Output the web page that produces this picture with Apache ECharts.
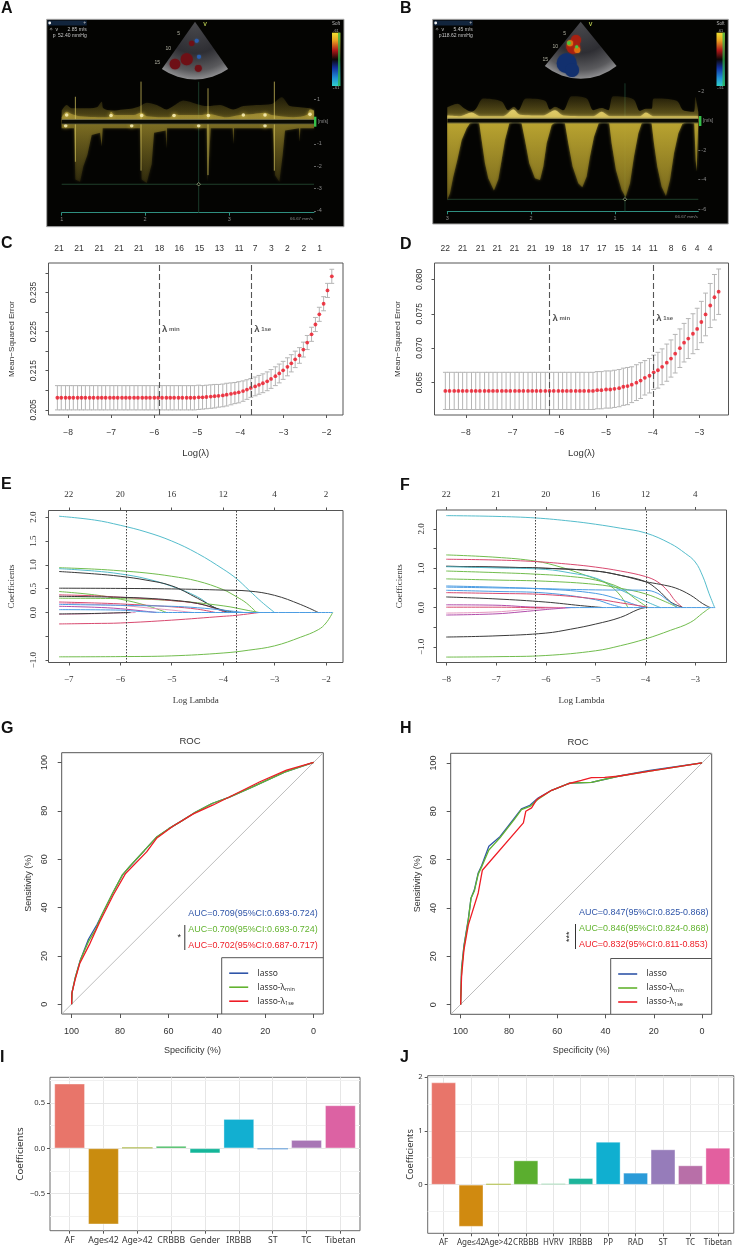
<!DOCTYPE html>
<html><head><meta charset="utf-8">
<style>html,body{margin:0;padding:0;background:#fff}#c{width:735px;height:1248px}</style>
<script src="https://cdn.jsdelivr.net/npm/echarts@6/dist/echarts.min.js"></script>
</head><body><div id="c"></div>
<script>
/* ---------- Panel C data ---------- */
const cLogL=[-8.25,-8.16,-8.06,-7.97,-7.88,-7.78,-7.69,-7.60,-7.50,-7.41,-7.31,-7.22,-7.13,-7.03,-6.94,-6.85,-6.75,-6.66,-6.57,-6.47,-6.38,-6.28,-6.19,-6.10,-6.00,-5.91,-5.82,-5.72,-5.63,-5.54,-5.44,-5.35,-5.25,-5.16,-5.07,-4.97,-4.88,-4.79,-4.69,-4.60,-4.51,-4.41,-4.32,-4.22,-4.13,-4.04,-3.94,-3.85,-3.76,-3.66,-3.57,-3.48,-3.38,-3.29,-3.19,-3.10,-3.01,-2.91,-2.82,-2.73,-2.63,-2.54,-2.45,-2.35,-2.26,-2.17,-2.07,-1.98,-1.88];
const cMse=[.2081,.2081,.2081,.2081,.2081,.2081,.2081,.2081,.2081,.2081,.2081,.2081,.2081,.2081,.2081,.2081,.2081,.2081,.2081,.2081,.2081,.2081,.2081,.2081,.2081,.2081,.2081,.2081,.2081,.2081,.2081,.2081,.2081,.2081,.2081,.2082,.2082,.2083,.2084,.2085,.2086,.2087,.2089,.2091,.2093,.2095,.2098,.2102,.2106,.2110,.2114,.2118,.2123,.2129,.2136,.2143,.2151,.2160,.2169,.2179,.2189,.2204,.2222,.2243,.2268,.2294,.2321,.2355,.2391];
const cErr=[.0031,.0031,.0031,.0031,.0031,.0031,.0031,.0031,.0031,.0031,.0031,.0031,.0031,.0031,.0031,.0031,.0031,.0031,.0031,.0031,.0031,.0031,.0031,.0031,.0031,.0031,.0031,.0031,.0031,.0031,.0031,.0031,.0031,.0031,.0031,.0031,.0030,.0030,.0030,.0030,.0029,.0029,.0029,.0028,.0027,.0027,.0026,.0025,.0024,.0024,.0024,.0024,.0024,.0024,.0024,.0024,.0023,.0023,.0022,.0021,.0020,.0019,.0018,.0018,.0018,.0018,.0018,.0018,.0018];
const cTopPos=[-8.21,-7.75,-7.28,-6.82,-6.36,-5.88,-5.42,-4.95,-4.49,-4.03,-3.66,-3.28,-2.91,-2.53,-2.16];
const cTopLabels=['21','21','21','21','21','18','16','15','13','11','7','3','2','2','1'];
const cLambda=[-5.89,-3.75];
/* ---------- Panel D data ---------- */
const dLogL=[-8.44,-8.35,-8.25,-8.16,-8.07,-7.98,-7.88,-7.79,-7.70,-7.60,-7.51,-7.42,-7.33,-7.23,-7.14,-7.05,-6.95,-6.86,-6.77,-6.67,-6.58,-6.49,-6.40,-6.30,-6.21,-6.12,-6.02,-5.93,-5.84,-5.75,-5.65,-5.56,-5.47,-5.37,-5.28,-5.19,-5.10,-5.00,-4.91,-4.82,-4.72,-4.63,-4.54,-4.45,-4.35,-4.26,-4.17,-4.07,-3.98,-3.89,-3.80,-3.70,-3.61,-3.52,-3.42,-3.33,-3.24,-3.14,-3.05,-2.96,-2.87,-2.77,-2.68,-2.59];
const dMse=[.0638,.0638,.0638,.0638,.0638,.0638,.0638,.0638,.0638,.0638,.0638,.0638,.0638,.0638,.0638,.0638,.0638,.0638,.0638,.0638,.0638,.0638,.0638,.0638,.0638,.0638,.0638,.0638,.0638,.0638,.0638,.0638,.0638,.0638,.0638,.0639,.0639,.0640,.0640,.0641,.0642,.0644,.0645,.0647,.0650,.0653,.0657,.0660,.0665,.0668,.0673,.0679,.0685,.0692,.0700,.0708,.0714,.0721,.0728,.0738,.0749,.0762,.0774,.0782];
const dErr=[.0027,.0027,.0027,.0027,.0027,.0027,.0027,.0027,.0027,.0027,.0027,.0027,.0027,.0027,.0027,.0027,.0027,.0027,.0027,.0027,.0027,.0027,.0027,.0027,.0027,.0027,.0027,.0027,.0027,.0027,.0027,.0027,.0027,.0027,.0027,.0027,.0027,.0027,.0027,.0027,.0027,.0027,.0027,.0026,.0026,.0026,.0025,.0025,.0025,.0026,.0026,.0027,.0027,.0028,.0028,.0028,.0029,.0029,.0030,.0030,.0031,.0032,.0033,.0033];
const dTopPos=[-8.44,-8.07,-7.69,-7.33,-6.96,-6.59,-6.21,-5.84,-5.46,-5.09,-4.72,-4.35,-3.99,-3.61,-3.33,-3.05,-2.77];
const dTopLabels=['22','21','21','21','21','21','19','18','17','17','15','14','11','8','6','4','4'];
const dLambda=[-6.21,-3.99];
/* ---------- Panel E coefficient paths ---------- */
const eCyan1=[[-7.19,2.02],[-6.5,1.94],[-6,1.83],[-5.5,1.69],[-5,1.50],[-4.5,1.24],[-4,.91],[-3.74,.71],[-3.5,.47],[-3.25,.22],[-3,0]];
const eGreen1=[[-7.19,.94],[-6.5,.91],[-6,.875],[-5.5,.83],[-5,.76],[-4.5,.66],[-4,.48],[-3.74,.33],[-3.55,.20],[-3.35,0]];
const eCyan2=[[-7.19,.92],[-6.5,.87],[-6,.81],[-5.5,.71],[-5,.55],[-4.5,.33],[-4.2,.12],[-3.9,0]];
const eBlack1=[[-7.19,.86],[-6.5,.81],[-6,.76],[-5.5,.68],[-5,.56],[-4.5,.30],[-4.1,.07],[-3.9,0]];
const eBlack2=[[-7.19,.51],[-6,.505],[-5,.495],[-4,.47],[-3.5,.45],[-3,.36],[-2.5,.17],[-2.15,0]];
const eGreen2=[[-7.19,.44],[-6.5,.37],[-6,.28],[-5.5,.15],[-5.1,0]];
const eCrimson1=[[-7.19,.37],[-6.5,.35],[-6,.32],[-5.5,.29],[-5,.25],[-4.5,.19],[-4.2,.10],[-3.95,0]];
const eBlack3=[[-7.19,.34],[-6.5,.33],[-6,.32],[-5.5,.30],[-5,.26],[-4.5,.19],[-4,.05],[-3.75,0]];
const eGreen3=[[-7.19,.30],[-6,.29],[-5,.25],[-4,.14],[-3.5,.04],[-3.3,0]];
const eCrimson2=[[-7.19,.22],[-6.5,.20],[-6,.18],[-5,.12],[-4.5,.07],[-4.15,0]];
const ePurple1=[[-7.19,.20],[-6.5,.17],[-6,.15],[-5.5,.10],[-5,.05],[-4.6,0]];
const eBlue1=[[-7.19,.17],[-6,.15],[-5,.13],[-4.5,.10],[-4,.05],[-3.6,0]];
const ePurple2=[[-7.19,.13],[-6.5,.11],[-6,.08],[-5.3,0]];
const eBlue2=[[-7.19,.06],[-6,.05],[-5.6,.02],[-5.2,0]];
const eBlack4=[[-7.19,-.03],[-6.5,-.02],[-6,-.005],[-5.8,0]];
const ePink1=[[-7.19,-.04],[-6.5,-.025],[-6,-.01],[-5.7,0]];
const eCrimson3=[[-7.19,-.24],[-6.5,-.23],[-6,-.22],[-5,-.16],[-4,-.08],[-3.75,-.06],[-3.3,0]];
const eGreen4=[[-7.19,-.93],[-6,-.925],[-5,-.91],[-4,-.85],[-3.5,-.79],[-3,-.70],[-2.5,-.52],[-2.15,-.36],[-2,-.22],[-1.87,0]];
const eBlueZero=[[-5.2,0],[-1.87,0]];
const eLambda=[-5.89,-3.75];
const eTopPos=[-7,-6,-5,-4,-3,-2];
const eTopLabels=['22','20','16','12','4','2'];
/* ---------- Panel F coefficient paths ---------- */
const fCyan1=[[-8,2.34],[-7,2.32],[-6.2,2.28],[-5.5,2.2],[-5,2.12],[-4.5,2.02],[-4,1.90],[-3.5,1.63],[-3.2,1.38],[-3,1.16],[-2.85,.80],[-2.72,.35],[-2.61,0]];
const fGreen1=[[-8,1.34],[-7,1.28],[-6.2,1.18],[-5.7,1.03],[-5.2,.82],[-4.9,.68],[-4.7,.55],[-4.5,.30],[-4.35,0]];
const fCrimson1=[[-8,1.23],[-7,1.21],[-6.2,1.17],[-5.5,1.10],[-5,1.03],[-4.5,.93],[-4,.79],[-3.75,.65],[-3.55,.42],[-3.4,.17],[-3.25,0]];
const fBlack1=[[-8,1.05],[-7,1.03],[-6,1.0],[-5,.93],[-4.5,.82],[-4,.66],[-3.7,.59],[-3.4,.50],[-3.1,.32],[-2.85,.10],[-2.7,0]];
const fBlack2=[[-8,1.05],[-7,1.03],[-6,1.0],[-5,.93],[-4.5,.82],[-4,.66],[-3.75,.45],[-3.5,.15],[-3.35,.05],[-3.25,0]];
const fCyan2=[[-8,1.04],[-7,1.01],[-6,.97],[-5.5,.88],[-5,.75],[-4.5,.45],[-4,.16],[-3.7,0]];
const fGreen2=[[-8,.93],[-7,.89],[-6.2,.85],[-5.5,.79],[-5,.70],[-4.5,.50],[-4.2,.22],[-3.95,0]];
const fGreen3=[[-8,.73],[-7,.70],[-6,.67],[-5,.59],[-4.5,.49],[-4,.35],[-3.6,.15],[-3.35,0]];
const fBlue1=[[-8,.55],[-7,.52],[-6,.48],[-5,.45],[-4,.44],[-3.75,.36],[-3.55,.18],[-3.35,0]];
const fBlue2=[[-8,.52],[-7,.50],[-6,.47],[-5,.36],[-4.5,.20],[-4.2,.07],[-4,0]];
const fBlue3=[[-8,.44],[-7,.41],[-6,.37],[-5,.20],[-4.7,.08],[-4.46,0]];
const fCrimson2=[[-8,.38],[-7,.36],[-6,.33],[-5,.22],[-4.5,.12],[-4,.02],[-3.95,0]];
const fBlack3=[[-8,.27],[-7,.22],[-6,.14],[-5.3,.05],[-4.85,0]];
const fPurple1=[[-8,.07],[-7,.06],[-6.2,.01],[-5.4,0]];
const fCrimson3=[[-8,.01],[-7,.01],[-6.2,0],[-5.6,0]];
const fPink1=[[-8,-.14],[-7,-.11],[-6.2,-.03],[-5.6,0]];
const fPurple2=[[-8,-.19],[-7,-.16],[-6.5,-.11],[-6,-.05],[-5.5,0]];
const fBlack4=[[-8,-.75],[-7,-.72],[-6,-.65],[-5.5,-.55],[-5,-.42],[-4.5,-.25],[-4.15,-.05],[-4,0]];
const fGreen4=[[-8,-1.26],[-7,-1.25],[-6,-1.22],[-5,-1.10],[-4.5,-.97],[-4,-.80],[-3.5,-.58],[-3.1,-.38],[-2.85,-.14],[-2.7,0]];
const fBlueZero=[[-5.6,0],[-2.6,0]];
const fLambda=[-6.21,-3.99];
const fTopPos=[-8,-7,-6,-5,-4,-3];
const fTopLabels=['22','21','20','16','12','4'];
/* ---------- Panel G ROC (specificity, sensitivity) ---------- */
const gBlue=[[100,0],[99.8,5],[98.5,11],[96.5,18],[93,27],[89.5,33],[87.5,37],[83,46],[79,53.5],[75.5,57.5],[70,63.5],[65,69],[60,72.5],[55,75.5],[49.5,79],[42,83],[35,85.5],[25,90],[12,96],[0,100]];
const gGreen=[[100,0],[99.8,5],[98.5,11],[96.3,18.5],[93,26],[90,31],[87.5,37],[83,46],[79,53.5],[76,57],[70,63.5],[65,69],[60,72.5],[55,75.5],[49.5,79],[42,83],[35,85.5],[25,90],[12,96],[0,100]];
const gRed=[[100,0],[99.9,4.5],[98.6,10],[96.6,17],[92.4,25.2],[88.3,34.2],[82.8,45.2],[77.7,54.1],[69,63],[64.9,68.6],[58,73.7],[49.7,78.7],[41.5,82.4],[33.2,86.5],[22.2,92],[11.2,96.8],[0,100]];
/* ---------- Panel H ROC ---------- */
const hBlue=[[100,0],[99.6,15],[98.6,24.5],[96.8,35.5],[95.7,44],[94.3,47.5],[92.7,54.5],[91.3,57.5],[88.3,65.5],[83.7,69.5],[77.5,77.5],[74.8,81],[71.3,82.5],[67.9,85.5],[62.3,88.7],[54.8,91.7],[45.8,92],[34.8,94.5],[22.3,96.8],[0,100]];
const hGreen=[[100,0],[99.6,14.5],[98.6,24],[96.8,35],[95.7,44],[94.3,47],[92.7,54],[91.3,57],[88.3,64],[83.7,69],[77.5,77],[74.8,80.7],[71.3,82],[67.9,85],[62.3,88.7],[54.8,91.7],[45.8,92],[34.8,94.5],[22.3,96.5],[0,100]];
const hRed=[[100,0],[99.6,11.7],[98.6,22.8],[96.8,33],[92.7,46.2],[91,55.6],[74,75.2],[73,80],[70.6,81.4],[68.5,84.8],[66.5,86.2],[62.3,88.7],[55.4,91.4],[50,92.8],[45.8,93.9],[40.3,94],[34.8,94.5],[22.3,96.5],[0,100]];
/* ---------- Panels I, J ---------- */
const iCats=['AF','Age≤42','Age>42','CRBBB','Gender','IRBBB','ST','TC','Tibetan'];
const iVals=[.713,-.838,.003,.026,-.055,.323,-.005,.092,.474];
const iCols=['#e8756a','#c98c0f','#a9b53c','#2bb14a','#14b699','#12afd1','#5b9bdb','#a876b5','#dc62a3'];
const jCats=['AF','Age≤42','Age>42','CRBBB','HVRV','IRBBB','PP','RAD','ST','TC','Tibetan'];
const jVals=[1.895,-.778,.006,.45,.025,.123,.796,.222,.654,.358,.685];
const jCols=['#e8756a','#d08a10','#b0c040','#5bae2f','#1fae56','#1db59b','#10afd0','#2a9bd8','#967cba','#b86fa8','#e35f9f'];
/* ---------- Panels A, B Doppler envelopes (sweep position, m/s) ---------- */
const aHaze=[[185,.5],[200,.75],[215,.6],[250,.6],[290,.65],[305,.9],[310,.6],[335,.5],[370,.55],[400,.6],[420,.7],[440,.85],[470,.75],[500,.55],[520,.7],[550,.95],[590,.8],[622,.7],[660,.75],[700,.55],[730,.7],[770,.75],[815,.8],[845,1.1],[870,.7],[900,.65],[930,.6],[942,.5]];
const aCore=[[185,.2],[200,.45],[215,.35],[240,.25],[325,.2],[333,.45],[345,.3],[400,.3],[425,.4],[440,.25],[510,.2],[522,.35],[540,.3],[600,.3],[625,.35],[680,.2],[720,.3],[760,.35],[795,.4],[815,.3],[880,.2],[920,.3],[930,.55],[942,.5]];
const aLobes=[[185,-.3],[222,-.3],[226,-2.6],[240,-2.7],[250,-2.0],[262,-1.5],[275,-.6],[300,-.5],[305,-1.1],[308,-.3],[420,-.3],[425,-2.6],[440,-2.75],[455,-1.9],[462,-.5],[497,-.4],[499,-1.2],[501,-.3],[620,-.3],[622,-2.7],[628,-1.5],[632,-.3],[698,-.3],[700,-1],[702,-.3],[818,-.3],[825,-2.4],[838,-2.7],[848,-1.5],[855,-.4],[897,-.3],[899,-.9],[901,-.3],[942,-.3]];
const aSpikes=[[226,1.12,-1.8],[423,1.8,-2.2],[624,1.5,-2.4],[823,1.8,-2.2]];
const aSpots=[[200,.3],[333,.28],[425,.28],[522,.28],[625,.28],[730,.3],[795,.3],[930,.33],[596,-.18],[395,-.18],[795,-.18],[197,-.18]];
const aGuide=[-2.81,596];
const aTimeTicks=[185,435,688];
const aTimeLabels=['1','2','3'];
const bHaze=[[232,.9],[262,1.15],[285,.8],[305,.6],[318,.8],[340,1.5],[395,1.3],[415,.7],[432,.95],[445,.7],[468,1.5],[525,1.35],[540,.75],[555,.95],[580,.7],[605,1.65],[650,1.5],[670,.7],[695,.85],[715,.7],[730,1.65],[790,1.45],[810,.65],[828,.8],[845,.8],[852,1.5],[920,1.35],[940,.7],[972,.6],[976,1.6],[985,.6]];
const bCore=[[232,.35],[270,.3],[305,.55],[330,.3],[400,.3],[430,.75],[450,.4],[520,.35],[555,.7],[580,.35],[670,.3],[695,.6],[720,.3],[810,.3],[828,.55],[850,.3],[985,.3]];
const bLobes=[[232,-5.38],[240,-4.93],[250,-3.8],[262,-2.67],[275,-1.31],[290,-.52],[300,-.18],[318,0],[328,-.18],[335,-1.31],[345,-2.9],[355,-3.91],[372,-4.75],[385,-3.98],[395,-2.67],[405,-1.31],[418,-.18],[436,0],[455,-.18],[465,-1.31],[478,-2.9],[495,-3.91],[510,-4.03],[520,-3.12],[530,-1.54],[545,-.3],[552,-.18],[568,0],[585,-.18],[595,-1.54],[608,-3.12],[625,-4.25],[637,-4.52],[650,-3.8],[660,-2.44],[672,-1.09],[686,-.18],[702,0],[718,-.18],[725,-1.54],[738,-3.35],[755,-4.71],[767,-5.2],[780,-4.25],[792,-2.44],[805,-.86],[815,-.18],[830,0],[845,-.18],[852,-1.54],[862,-3.12],[875,-4.48],[888,-5.11],[900,-4.03],[912,-2.22],[925,-.86],[937,-.23],[955,0],[973,-.18],[977,-2.67],[980,-3.46],[985,-3.57]];
const bGuide=[-5.34,765];
const bTimeTicks=[232,483,735];
const bTimeLabels=['3','2','1'];

const SANS='"Liberation Sans",Arial,sans-serif', SERIF='"Liberation Serif",serif', MYR='"Noto Sans",sans-serif';
const grid=[],xAxis=[],yAxis=[],series=[],elements=[],legend=[],title=[];
const minus=s=>String(s).replace('-','−');
const nearest=(arr,v)=>{let b=0;arr.forEach((a,i)=>{if(Math.abs(a-v)<Math.abs(arr[b]-v))b=i});return b};

function addGrid(l,t,w,h,border){grid.push({left:l,top:t,width:w,height:h,show:!!border,borderColor:border||'#555',borderWidth:1,containLabel:false});return grid.length-1}
function axis(g,o){return {type:'value',gridIndex:g,min:o.min,max:o.max,position:o.pos,inverse:!!o.inverse,
  axisLine:{show:false,onZero:false},
  axisTick:{show:o.tickShow!==false,length:o.tickLen||3,lineStyle:{color:o.tickColor||'#555',width:1},customValues:o.ticks},
  axisLabel:{show:true,customValues:o.labels,rotate:o.rotate||0,margin:o.margin,fontFamily:o.font,fontSize:o.size,color:o.color||'#333',hideOverlap:false,formatter:o.fmt,showMinLabel:true,showMaxLabel:true},
  splitLine:o.split||{show:false},minorTick:{show:false},minorSplitLine:o.minorSplit||{show:false},
  name:o.name,nameLocation:'middle',nameGap:o.nameGap,nameTextStyle:{fontFamily:o.font,fontSize:o.nameSize||o.size,color:'#333'}}}

/* letters */
[['A',1,17],['B',400,17],['C',1,252],['D',400,253],['E',1,493],['F',400,494],['G',1,737],['H',400,737],['I',0,1066],['J',400,1066]].forEach(([t,x,y])=>{
  elements.push({type:'text',z:5,style:{text:t,x:x,y:y,textVerticalAlign:'bottom',font:'bold 16px '+SANS,fill:'#111'}})});

/* ---------- cv panels ---------- */
function cvPanel(o){
  const g=addGrid(o.l,o.t,o.w,o.h,'#555');
  xAxis.push(axis(g,{min:o.xmin,max:o.xmax,pos:'bottom',ticks:o.xticks,labels:o.xticks,font:SANS,size:8.5,margin:13,fmt:v=>minus(v),name:'Log(λ)',nameGap:33,nameSize:9.5}));
  const xi=xAxis.length-1;
  xAxis.push(axis(g,{min:o.xmin,max:o.xmax,pos:'top',tickShow:false,labels:o.topPos,font:SANS,size:8.5,margin:10,fmt:v=>o.topLabels[nearest(o.topPos,v)]}));
  yAxis.push(axis(g,{min:o.ymin,max:o.ymax,pos:'left',ticks:o.yticks,labels:o.ylabels,rotate:90,font:SANS,size:8.5,margin:10,fmt:v=>v.toFixed(3),name:'Mean−Squared Error',nameGap:o.nameGap,nameSize:8.1}));
  const yi=yAxis.length-1;
  series.push({type:'custom',xAxisIndex:xi,yAxisIndex:yi,silent:true,z:2,clip:false,
    data:o.x.map((x,i)=>[x,o.y[i]-o.e[i],o.y[i]+o.e[i]]),
    renderItem:(p,api)=>{const a=api.coord([api.value(0),api.value(1)]),b=api.coord([api.value(0),api.value(2)]);
      const st={stroke:'#b5b5b5',lineWidth:1,fill:'none'};const c=2.4;
      return {type:'group',children:[
        {type:'line',shape:{x1:a[0],y1:a[1],x2:b[0],y2:b[1]},style:st},
        {type:'line',shape:{x1:a[0]-c,y1:a[1],x2:a[0]+c,y2:a[1]},style:st},
        {type:'line',shape:{x1:b[0]-c,y1:b[1],x2:b[0]+c,y2:b[1]},style:st}]}}});
  series.push({type:'scatter',xAxisIndex:xi,yAxisIndex:yi,silent:true,z:4,symbolSize:3.8,itemStyle:{color:'#ee1122'},
    data:o.x.map((x,i)=>[x,o.y[i]]),
    markLine:{silent:true,symbol:'none',label:{show:false},animation:false,lineStyle:{type:[6,3],color:'#555',width:1.1},data:o.lam.map(v=>({xAxis:v}))}});
  series.push({type:'scatter',xAxisIndex:xi,yAxisIndex:yi,silent:true,z:5,symbolSize:0,
    data:[[o.lam[0],o.ly,'min'],[o.lam[1],o.ly,'1se']],
    label:{show:true,position:'right',distance:3,formatter:p=>'{a|λ}{b| '+p.value[2]+'}',rich:{a:{fontFamily:SANS,fontWeight:'bold',fontSize:9.5,color:'#222'},b:{fontFamily:SANS,fontWeight:'bold',fontSize:6,color:'#333'}}}});
}
cvPanel({l:48.5,t:263,w:294.5,h:152,xmin:-8.456,xmax:-1.62,ymin:.2037,ymax:.2425,x:cLogL,y:cMse,e:cErr,lam:cLambda,ly:.2256,
  xticks:[-8,-7,-6,-5,-4,-3,-2],yticks:[.205,.21,.215,.22,.225,.23,.235,.24],ylabels:[.205,.215,.225,.235],topPos:cTopPos,topLabels:cTopLabels,nameGap:33});
cvPanel({l:434.5,t:263,w:294,h:152,xmin:-8.672,xmax:-2.379,ymin:.0603,ymax:.08237,x:dLogL,y:dMse,e:dErr,lam:dLambda,ly:.0744,
  xticks:[-8,-7,-6,-5,-4,-3],yticks:[.065,.07,.075,.08],ylabels:[.065,.07,.075,.08],topPos:dTopPos,topLabels:dTopLabels,nameGap:33});

/* ---------- coefficient path panels ---------- */
const BK='#3a3a3a',CR='#d94a70',GR='#72bd4e',BL='#4c9de3',CY='#55bdcc',PU='#b14dab',PK='#e79ac0';
function pathPanel(o){
  const g=addGrid(o.l,o.t,o.w,o.h,'#555');
  xAxis.push(axis(g,{min:o.xmin,max:o.xmax,pos:'bottom',ticks:o.xticks,labels:o.xticks,font:SERIF,size:9,margin:13,fmt:v=>minus(v),name:'Log Lambda',nameGap:o.nameGapX,nameSize:9}));
  const xi=xAxis.length-1;
  xAxis.push(axis(g,{min:o.xmin,max:o.xmax,pos:'top',ticks:o.topPos,labels:o.topPos,font:SERIF,size:9,margin:11,fmt:v=>o.topLabels[nearest(o.topPos,v)]}));
  yAxis.push(axis(g,{min:o.ymin,max:o.ymax,pos:'left',ticks:o.yticks,labels:o.ylabels,rotate:90,font:SERIF,size:9,margin:o.ymargin,fmt:v=>minus(v.toFixed(1)),name:'Coefficients',nameGap:o.nameGap,nameSize:9}));
  const yi=yAxis.length-1;
  o.paths.forEach(([d,c],i)=>series.push({type:'line',xAxisIndex:xi,yAxisIndex:yi,silent:true,z:3,data:d,symbol:'none',smooth:.4,lineStyle:{color:c,width:1},
    markLine:i?undefined:{silent:true,symbol:'none',label:{show:false},animation:false,lineStyle:{type:[1.5,1.5],color:'#444',width:1},data:o.lam.map(v=>({xAxis:v}))}}));
}
pathPanel({l:48.5,t:510.5,w:294.5,h:152,xmin:-7.395,xmax:-1.67,ymin:-1.049,ymax:2.14,xticks:[-7,-6,-5,-4,-3,-2],yticks:[-1,-.5,0,.5,1,1.5,2],ylabels:[-1,0,.5,1,1.5,2],
  topPos:eTopPos,topLabels:eTopLabels,lam:eLambda,nameGap:32,nameGapX:34,ymargin:10,
  paths:[[eCyan1,CY],[eGreen1,GR],[eCyan2,CY],[eBlack1,BK],[eBlack2,BK],[eGreen2,GR],[eGreen3,GR],[eCrimson1,CR],[eBlack3,BK],[eCrimson2,CR],[ePurple1,PK],[eBlue1,BL],[ePurple2,PU],[eBlue2,BL],[ePink1,PK],[eBlack4,BK],[eCrimson3,CR],[eGreen4,GR],[eBlueZero,BL]]});
pathPanel({l:436.5,t:510,w:290,h:152.5,xmin:-8.194,xmax:-2.372,ymin:-1.398,ymax:2.483,xticks:[-8,-7,-6,-5,-4,-3],yticks:[-1,-.5,0,.5,1,1.5,2],ylabels:[-1,0,1,2],
  topPos:fTopPos,topLabels:fTopLabels,lam:fLambda,nameGap:32,nameGapX:34,ymargin:10,
  paths:[[fCyan1,CY],[fGreen1,GR],[fCrimson1,CR],[fBlack1,BK],[fBlack2,BK],[fCyan2,CY],[fGreen2,GR],[fGreen3,GR],[fBlue1,BL],[fBlue2,BL],[fBlue3,BL],[fCrimson2,CR],[fBlack3,BK],[fPurple1,PU],[fCrimson3,CR],[fPink1,PK],[fPurple2,PU],[fBlack4,BK],[fGreen4,GR],[fBlueZero,BL]]});

/* ---------- ROC panels ---------- */
const LB='#2f55a8',LG='#62b32f',LR='#ee1c25';
function rocPanel(o){
  const g=addGrid(o.l,o.t,o.w,o.h,'#555');
  title.push({text:'ROC',left:o.tx,top:o.ty,textAlign:'center',padding:0,textStyle:{fontFamily:SANS,fontSize:9.5,fontWeight:'normal',color:'#333'}});
  xAxis.push(axis(g,{min:-4,max:104.1,inverse:true,pos:'bottom',ticks:[0,20,40,60,80,100],labels:[0,20,40,60,80,100],font:SANS,size:9,margin:13,fmt:v=>String(v),name:'Specificity (%)',nameGap:32,tickLen:4}));
  const xi=xAxis.length-1;
  yAxis.push(axis(g,{min:-4,max:104,pos:'left',ticks:[0,20,40,60,80,100],labels:[0,20,40,60,80,100],rotate:90,font:SANS,size:9,margin:12.5,fmt:v=>String(v),name:'Sensitivity (%)',nameGap:29,tickLen:4}));
  const yi=yAxis.length-1;
  series.push({type:'line',xAxisIndex:xi,yAxisIndex:yi,silent:true,z:2,symbol:'none',data:[[104.1,-4],[-4,104]],lineStyle:{color:'#bdbdbd',width:1}});
  [['lasso',o.blue,LB],['lasso-λmin',o.green,LG],['lasso-λ1se',o.red,LR]].forEach(([n,d,c])=>
    series.push({name:n,type:'line',xAxisIndex:xi,yAxisIndex:yi,silent:true,z:3,symbol:'none',data:d,lineStyle:{color:c,width:1.3},itemStyle:{color:c}}));
  const sizes=o.auc;
  [[0,LB],[1,LG],[2,LR]].forEach(([i,c])=>elements.push({type:'text',z:6,style:{text:sizes[i],x:o.ax,y:o.ay[i],textVerticalAlign:'middle',font:'8.95px '+SANS,fill:c}}));
  elements.push({type:'line',z:6,shape:{x1:o.ax-3.5,y1:o.ay[1]-4.5,x2:o.ax-3.5,y2:o.ay[2]+4},style:{stroke:'#333',lineWidth:1}});
  elements.push({type:'text',z:6,x:o.ax-9,y:(o.ay[1]+o.ay[2])/2,rotation:o.star.length>1?Math.PI/2:0,style:{text:o.star,x:0,y:0,textAlign:'center',textVerticalAlign:'middle',font:'9px '+SANS,fill:'#222'}});
  elements.push({type:'polyline',z:6,shape:{points:[[o.bx,1014],[o.bx,o.by],[o.l+o.w,o.by]]},style:{stroke:'#555',lineWidth:1,fill:'none'}});
  legend.push({show:true,left:o.bx+7.5,top:o.by+10,orient:'vertical',selectedMode:false,data:['lasso','lasso-λmin','lasso-λ1se'],icon:'rect',itemWidth:19,itemHeight:1.6,itemGap:3,padding:0,
    textStyle:{fontFamily:MYR,fontSize:8.5,color:'#333',lineHeight:11,rich:{s:{fontFamily:MYR,fontSize:5.5,color:'#333',verticalAlign:'bottom',lineHeight:11},l:{fontFamily:MYR,fontSize:8.5,color:'#333'}}},
    formatter:n=>'  '+n.replace(/λ(.*)/,'{l|λ}{s|$1}')});
}
rocPanel({l:61.7,t:752.7,w:261.6,h:261.3,tx:190,ty:736,blue:gBlue,green:gGreen,red:gRed,ax:188.3,ay:[913.7,929.5,946],star:'*',bx:221.7,by:957.7,
  auc:['AUC=0.709(95%CI:0.693-0.724)','AUC=0.709(95%CI:0.693-0.724)','AUC=0.702(95%CI:0.687-0.717)']});
rocPanel({l:450.7,t:753.3,w:261,h:261,tx:578,ty:737,blue:hBlue,green:hGreen,red:hRed,ax:579,ay:[913,928.5,945],star:'***',bx:610.7,by:958.5,
  auc:['AUC=0.847(95%CI:0.825-0.868)','AUC=0.846(95%CI:0.824-0.868)','AUC=0.832(95%CI:0.811-0.853)']});

/* ---------- bar panels ---------- */
function barPanel(o){
  const g=addGrid(o.l,o.t,o.w,o.h,'#6a6a6a');
  const idx=o.cats.map((c,i)=>i);
  xAxis.push(axis(g,{min:-.58,max:o.cats.length-1+.58,pos:'bottom',ticks:idx,labels:idx,font:MYR,size:o.catSize,margin:5,fmt:v=>o.cats[Math.round(v)],split:{show:true,lineStyle:{color:'#e6e6e6',width:1}}}));
  const xi=xAxis.length-1;
  yAxis.push(axis(g,{min:o.ymin,max:o.ymax,pos:'left',ticks:o.yticks,labels:o.yticks,font:MYR,size:7.6,margin:5,fmt:o.fmt,name:'Coefficients',nameGap:o.nameGap,nameSize:o.nameSize,split:{show:true,lineStyle:{color:'#e6e6e6',width:1}},minorSplit:{show:false}}));
  const yi=yAxis.length-1;
  series.push({type:'line',xAxisIndex:xi,yAxisIndex:yi,silent:true,z:1,symbol:'none',lineStyle:{width:0},data:[],
    markLine:{z:1,silent:true,symbol:'none',label:{show:false},animation:false,lineStyle:{type:'solid',color:'#f1f1f1',width:1},data:o.minor.map(v=>({yAxis:v}))}});
  series.push({type:'bar',xAxisIndex:xi,yAxisIndex:yi,silent:true,z:3,barWidth:o.bw,barMinHeight:1,
    data:o.vals.map((v,i)=>({value:[i,v],itemStyle:{color:o.cols[i],borderColor:'rgba(255,255,255,.45)',borderWidth:Math.abs(v)<.01?0:.8}}))});
}
barPanel({l:50,t:1077.3,w:310,h:153.4,cats:iCats,vals:iVals,cols:iCols,ymin:-.908,ymax:.783,yticks:[-.5,0,.5],minor:[-.75,-.25,.25,.75],bw:30.6,nameGap:24.5,nameSize:9.7,catSize:8.7,fmt:v=>minus(v.toFixed(1))});
barPanel({l:427.7,t:1075.7,w:306.6,h:157.6,cats:jCats,vals:jVals,cols:jCols,ymin:-.90,ymax:2.02,yticks:[0,1,2],minor:[-.5,.5,1.5],bw:24.7,nameGap:10,nameSize:9.2,catSize:8,fmt:v=>String(v)});

/* ---------- Doppler panels ---------- */
function dopPanel(o){
  const g=addGrid(o.gl,o.gt,o.gw,o.gh,null);
  xAxis.push(axis(g,{min:o.xmin,max:o.xmax,pos:'bottom',ticks:o.tt,labels:o.tt,font:SANS,size:5.5,margin:4,color:'#8a8a8a',tickColor:'#2f8f7f',fmt:v=>o.tl[nearest(o.tt,v)]}));
  xAxis[xAxis.length-1].axisLine={show:true,onZero:false,lineStyle:{color:'#2f8f80',width:1}};
  const xi=xAxis.length-1;
  yAxis.push(axis(g,{min:o.ymin,max:o.ymax,pos:'right',ticks:o.yt,labels:o.yt,font:SANS,size:5.5,margin:3,color:'#8a8a8a',tickColor:'#666',tickLen:2,fmt:v=>String(v)}));
  const yi=yAxis.length-1;
  const base={type:'line',xAxisIndex:xi,yAxisIndex:yi,silent:true,symbol:'none',lineStyle:{width:0}};
  const grad=(a,b)=>new echarts.graphic.LinearGradient(0,0,0,1,[{offset:0,color:a},{offset:1,color:b}]);
  const soft=c=>({shadowBlur:3,shadowColor:c});
  series.push({...base,z:1,data:[[o.xmin,o.guide[0]],[o.xmax,o.guide[0]]],lineStyle:{color:'#1f3f2b',width:1}});
  series.push({...base,z:1,data:[[o.guide[1],o.ymin],[o.guide[1],o.ymax]],lineStyle:{color:'#1b3a2a',width:1}});
  series.push({...base,z:2,data:o.haze,smooth:.3,areaStyle:{color:grad(o.h1,o.h2),opacity:1,...soft(o.h1)}});
  series.push({...base,z:3,data:o.core,smooth:.3,areaStyle:{color:grad(o.c1,o.c2),opacity:1,...soft(o.c1)}});
  series.push({...base,z:2,data:o.lobes,areaStyle:{color:grad(o.l1,o.l2),opacity:1,...soft(o.l1)}});
  if(o.spikes) series.push({type:'custom',xAxisIndex:xi,yAxisIndex:yi,silent:true,z:4,data:o.spikes,
    renderItem:(p,api)=>{const a=api.coord([api.value(0),api.value(1)]),b=api.coord([api.value(0),api.value(2)]);
      return {type:'line',shape:{x1:a[0],y1:a[1],x2:b[0],y2:b[1]},style:{stroke:'#d9c860',lineWidth:.9,opacity:.8}}}});
  if(o.spots) series.push({type:'scatter',xAxisIndex:xi,yAxisIndex:yi,silent:true,z:5,symbolSize:3.6,data:o.spots,itemStyle:{color:'#fff6c0',shadowBlur:4,shadowColor:'#f4d94a'}});
  series.push({...base,z:6,data:[[o.xmin,0],[o.xmax,0]],lineStyle:{color:'#0b0b04',width:o.bandW}});
  series.push({...base,z:7,data:[[o.xmin,o.bandV],[o.xmax,o.bandV]],lineStyle:{color:'#7b7a52',width:.8}});
  series.push({...base,z:7,data:[[o.xmin,-o.bandV],[o.xmax,-o.bandV]],lineStyle:{color:'#55553a',width:.8}});
  series.push({type:'scatter',xAxisIndex:xi,yAxisIndex:yi,silent:true,z:8,symbol:'diamond',symbolSize:3.5,data:[[o.guide[1],o.guide[0]]],itemStyle:{color:'#000',borderColor:'#d6e6b0',borderWidth:.7}});
  /* instrument frame */
  const Z=-5;
  elements.push({type:'rect',z:Z,shape:{x:o.rx,y:o.ry,width:o.rw,height:o.rh},style:{fill:'#040402',stroke:'#a8a8a8',lineWidth:1}});
  const txt=(t,x,y,s,c,al)=>elements.push({type:'text',z:9,style:{text:t,x,y,textAlign:al||'left',textVerticalAlign:'middle',font:s+'px '+SANS,fill:c}});
  elements.push({type:'rect',z:9,shape:{x:o.rx+1,y:20.5,width:39,height:5},style:{fill:'#12253d'}});
  elements.push({type:'circle',z:9,shape:{cx:o.rx+3,cy:23,r:1.4},style:{fill:'#eee'}});
  txt('+',o.rx+38,23,5,'#bbb','center');
  txt('✧  v',o.rx+2,29.5,5,'#c8c8c8'); txt(o.v,o.rx+40,29.5,5,'#c8c8c8','right');
  txt('p',o.rx+6,36,5,'#c8c8c8'); txt(o.p,o.rx+40,36,5,'#c8c8c8','right');
  /* fan */
  elements.push({type:'sector',z:9,shape:{cx:o.fx,cy:o.fy,r:o.fr,r0:0,startAngle:o.a0,endAngle:o.a1},style:{fill:new echarts.graphic.RadialGradient(.5,0,1,[{offset:0,color:'#4a4a4e'},{offset:.55,color:'#2e2e33'},{offset:.85,color:'#5a5a5d'},{offset:1,color:'#8e8e90'}])}});
  o.blobs.forEach(b=>elements.push({type:'circle',z:10,shape:{cx:b[0],cy:b[1],r:b[2]},style:{fill:b[3],shadowBlur:1.5,shadowColor:b[3]}}));
  elements.push({type:'text',z:11,style:{text:'V',x:o.fx+10,y:24,textAlign:'center',textVerticalAlign:'middle',font:'bold 5.5px '+SANS,fill:'#b5c850'}});
  o.depth.forEach(d=>txt(d[0],d[1],d[2],5,'#b5b5a5','right'));
  /* colour bar */
  elements.push({type:'rect',z:9,shape:{x:o.cbx,y:32.7,width:8.3,height:53.3},style:{fill:new echarts.graphic.LinearGradient(0,0,0,1,[{offset:0,color:'#f0e030'},{offset:.15,color:'#e8a020'},{offset:.33,color:'#b01818'},{offset:.5,color:'#0c0606'},{offset:.66,color:'#1230a0'},{offset:.85,color:'#2090d8'},{offset:1,color:'#30d0c8'}])}});
  elements.push({type:'rect',z:9,shape:{x:o.cbx+6,y:32.7,width:2.3,height:53.3},style:{fill:'#2eb04a',opacity:.75}});
  txt('Soft',o.cbx+4,23.5,4.5,'#bbb','center'); txt('.61',o.cbx+4,31,3.8,'#aaa','center'); txt('-.61',o.cbx+4,87.5,3.8,'#aaa','center');
  /* m/s marker */
  elements.push({type:'rect',z:9,shape:{x:o.mx,y:o.my,width:2.4,height:10},style:{fill:'#35c24a'}});
  txt('[m/s]',o.mx+4,o.my+5,4.6,'#999');
  txt('66.67 mm/s',o.mx-1,o.my0,4.4,'#8a8a8a','right');
}
const deg=d=>d*Math.PI/180;
dopPanel({gl:61.7,gt:81.7,gw:252.3,gh:131,xmin:185,xmax:942,ymin:-4.087,ymax:1.796,tt:aTimeTicks,tl:aTimeLabels,yt:[-4,-3,-2,-1,1],
  haze:aHaze,core:aCore,lobes:aLobes,spikes:aSpikes,spots:aSpots,guide:aGuide,bandW:4.5,bandV:.1,
  h1:'rgba(100,88,25,.25)',h2:'rgba(150,132,42,.6)',c1:'rgba(195,172,68,.6)',c2:'rgba(180,158,55,.55)',l1:'rgba(150,132,42,.7)',l2:'rgba(80,70,18,.3)',
  rx:46.7,ry:19.3,rw:297.3,rh:207.4,v:'2.85 m/s',p:'52.40 mmHg',fx:195,fy:21.7,fr:57.7,a0:deg(55),a1:deg(125),cbx:332,mx:314,my:116.7,my0:218.5,
  depth:[['5',180,34],['10',171,49],['15',160,63]],
  blobs:[[175,64,5.3,'#6e1016'],[186.7,59.3,6,'#6e1016'],[191.7,43.3,2.6,'#6e1016'],[198.3,68.3,3.4,'#6e1016'],[196.7,40.7,2,'#2a5fb0'],[199,56.7,2,'#2a5fb0']]});
dopPanel({gl:447.3,gt:83.3,gw:251,gh:128,xmin:232,xmax:985,ymin:-6.154,ymax:2.534,tt:bTimeTicks,tl:bTimeLabels,yt:[-6,-4,-2,2],
  haze:bHaze,core:bCore,lobes:bLobes,guide:bGuide,bandW:4,bandV:.16,
  h1:'rgba(110,95,25,.25)',h2:'rgba(175,155,55,.65)',c1:'rgba(235,215,115,.85)',c2:'rgba(215,190,80,.75)',l1:'rgba(190,168,50,.9)',l2:'rgba(140,120,30,.5)',
  rx:432.7,ry:19.3,rw:295.6,rh:204.7,v:'5.45 m/s',p:'118.62 mmHg',fx:580.7,fy:21.7,fr:57,a0:deg(51),a1:deg(129),cbx:716.5,mx:699,my:116,my0:216.5,
  depth:[['5',566,34],['10',558,47],['15',548,60]],
  blobs:[[566.7,63.3,10,'#12306e'],[572,70,7,'#12306e'],[573.3,46.7,7,'#a82010'],[576,40,5,'#a82010'],[570,43.3,3,'#e07010'],[577.3,50,3,'#e07010'],[569,43,1.8,'#45c840'],[576.7,46.7,1.5,'#45c840']]});

const chart=echarts.init(document.getElementById('c'),null,{renderer:'canvas',width:735,height:1248});
chart.setOption({animation:false,backgroundColor:'#fff',textStyle:{fontFamily:SANS},title,grid,xAxis,yAxis,series,legend,graphic:{elements}});
</script></body></html>
